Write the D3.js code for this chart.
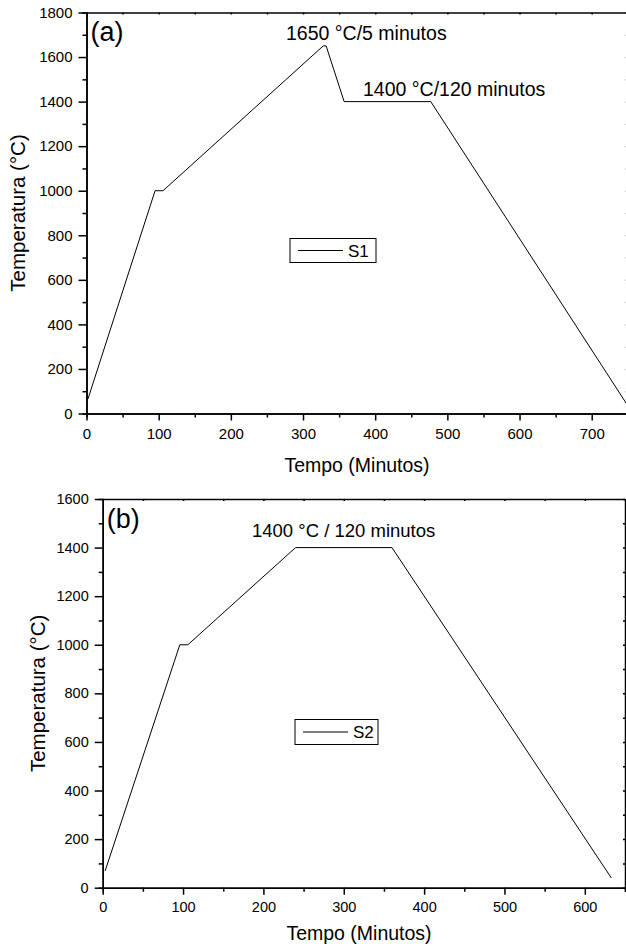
<!DOCTYPE html>
<html>
<head>
<meta charset="utf-8">
<script src="https://cdn.jsdelivr.net/npm/d3@7"></script>
<style>
  body { margin: 0; background: #fff; }
  svg { display: block; font-family: "Liberation Sans", Arial, sans-serif; }
  .axis path, .axis line { stroke: #000; stroke-width: 1.5; }
  .axis text { fill: #000; }
</style>
</head>
<body>
<div id="vis"></div>
<script>
// Panel (a): S1 firing schedule
const timeA = [2, 95, 106, 328, 332, 357, 477, 750];
const tempA = [65, 1000, 1000, 1650, 1650, 1400, 1400, 35];
const xTicksA = [0, 100, 200, 300, 400, 500, 600, 700];
const yTicksA = [0, 200, 400, 600, 800, 1000, 1200, 1400, 1600, 1800];

// Panel (b): S2 firing schedule
const timeB = [3, 96, 106, 240, 360, 633];
const tempB = [69, 1000, 1000, 1400, 1400, 40];
const xTicksB = [0, 100, 200, 300, 400, 500, 600];
const yTicksB = [0, 200, 400, 600, 800, 1000, 1200, 1400, 1600];

const svg = d3.select('#vis').append('svg')
    .attr('width', 626)
    .attr('height', 947);

let drawPanel = p => {
    let xScale = d3.scaleLinear().domain(p.xDomain).range([p.left, p.right]);
    let yScale = d3.scaleLinear().domain(p.yDomain).range([p.bottom, p.top]);
    let fmt = d3.format('d');
    let g = svg.append('g');

    // minor ticks first, then major ticks with labels
    let minorX = d3.range(p.xDomain[0], p.xDomain[1] + 1, 50).filter(v => v % 100 != 0);
    let minorY = d3.range(p.yDomain[0], p.yDomain[1] + 1, 100).filter(v => v % 200 != 0);

    g.append('g').attr('class', 'axis')
        .attr('transform', `translate(0, ${p.bottom})`)
        .call(d3.axisBottom(xScale).tickValues(minorX).tickSize(4).tickFormat(''));
    g.append('g').attr('class', 'axis')
        .attr('transform', `translate(${p.left}, 0)`)
        .call(d3.axisLeft(yScale).tickValues(minorY).tickSize(4).tickFormat(''));

    let xAxis = g.append('g').attr('class', 'axis')
        .attr('transform', `translate(0, ${p.bottom})`)
        .call(d3.axisBottom(xScale).tickValues(p.xTicks).tickFormat(fmt)
            .tickSize(7).tickPadding(p.xPad).tickSizeOuter(0));
    xAxis.selectAll('text').style('font-size', p.tickFont + 'px');

    let yAxis = g.append('g').attr('class', 'axis')
        .attr('transform', `translate(${p.left}, 0)`)
        .call(d3.axisLeft(yScale).tickValues(p.yTicks).tickFormat(fmt)
            .tickSize(8).tickPadding(6).tickSizeOuter(0));
    yAxis.selectAll('text').style('font-size', p.tickFont + 'px');

    // top and right frame with small inward ticks
    g.append('g').attr('class', 'axis')
        .attr('transform', `translate(0, ${p.top})`)
        .call(d3.axisTop(xScale).tickValues(d3.range(p.xDomain[0], p.xDomain[1] + 1, 50))
            .tickSize(-2).tickFormat('').tickSizeOuter(0));
    g.append('g').attr('class', 'axis')
        .attr('transform', `translate(${p.right}, 0)`)
        .call(d3.axisRight(yScale).tickValues(d3.range(p.yDomain[0], p.yDomain[1] + 1, 100))
            .tickSize(-2).tickFormat('').tickSizeOuter(0));

    // the curve
    let line = d3.line()
        .x(d => xScale(d[0]))
        .y(d => yScale(d[1]));
    let pts = p.time.map((t, i) => [t, p.temp[i]]);

    g.append('clipPath').attr('id', 'clip' + p.id)
        .append('rect')
        .attr('x', p.left).attr('y', p.top)
        .attr('width', p.right - p.left).attr('height', p.bottom - p.top);

    g.append('path')
        .datum(pts)
        .attr('clip-path', `url(#clip${p.id})`)
        .attr('fill', 'none')
        .attr('stroke', '#000')
        .attr('stroke-width', 1)
        .attr('d', line);

    // axis titles
    g.append('text')
        .attr('x', p.xTitleX)
        .attr('y', p.xTitleY)
        .attr('text-anchor', 'middle')
        .style('font-size', '19.5px')
        .text('Tempo (Minutos)');

    g.append('text')
        .attr('transform', `translate(${p.yTitleX}, ${(p.top + p.bottom) / 2}) rotate(-90)`)
        .attr('text-anchor', 'middle')
        .style('font-size', '20.5px')
        .text('Temperatura (°C)');

    // panel letter
    g.append('text')
        .attr('x', p.left + 4)
        .attr('y', p.letterY)
        .style('font-size', '27px')
        .text(p.letter);

    // annotations
    p.notes.forEach(n => {
        g.append('text')
            .attr('x', n.x).attr('y', n.y)
            .style('font-size', n.size + 'px')
            .text(n.text);
    });

    // legend
    let lg = p.legend;
    g.append('rect')
        .attr('x', lg.x).attr('y', lg.y)
        .attr('width', lg.w).attr('height', lg.h)
        .attr('fill', '#fff')
        .attr('stroke', '#000')
        .attr('stroke-width', 1);
    g.append('line')
        .attr('x1', lg.x + 8).attr('x2', lg.x + 53)
        .attr('y1', lg.y + lg.h / 2).attr('y2', lg.y + lg.h / 2)
        .attr('stroke', '#000');
    g.append('text')
        .attr('x', lg.x + 58)
        .attr('y', lg.y + lg.h / 2 + 6)
        .style('font-size', '17px')
        .text(lg.label);
};

drawPanel({
    id: 'a', letter: '(a)',
    time: timeA, temp: tempA,
    xDomain: [0, 750], yDomain: [0, 1800],
    xTicks: xTicksA, yTicks: yTicksA,
    left: 86.5, right: 627.8, top: 12.5, bottom: 413.5,
    tickFont: 15, xPad: 8,
    xTitleX: 357, xTitleY: 472, yTitleX: 25, letterY: 41,
    notes: [
        { x: 286, y: 40, size: 19.5, text: '1650 °C/5 minutos' },
        { x: 363, y: 96, size: 19.5, text: '1400 °C/120 minutos' }
    ],
    legend: { x: 290, y: 238.5, w: 86, h: 24, label: 'S1' }
});

drawPanel({
    id: 'b', letter: '(b)',
    time: timeB, temp: tempB,
    xDomain: [0, 650], yDomain: [0, 1600],
    xTicks: xTicksB, yTicks: yTicksB,
    left: 102.7, right: 625, top: 499, bottom: 887.7,
    tickFont: 14.5, xPad: 7,
    xTitleX: 359, xTitleY: 940, yTitleX: 44.5, letterY: 528,
    notes: [
        { x: 252, y: 537, size: 18.5, text: '1400 °C / 120 minutos' }
    ],
    legend: { x: 295, y: 719.5, w: 83, h: 25, label: 'S2' }
});
</script>
</body>
</html>
